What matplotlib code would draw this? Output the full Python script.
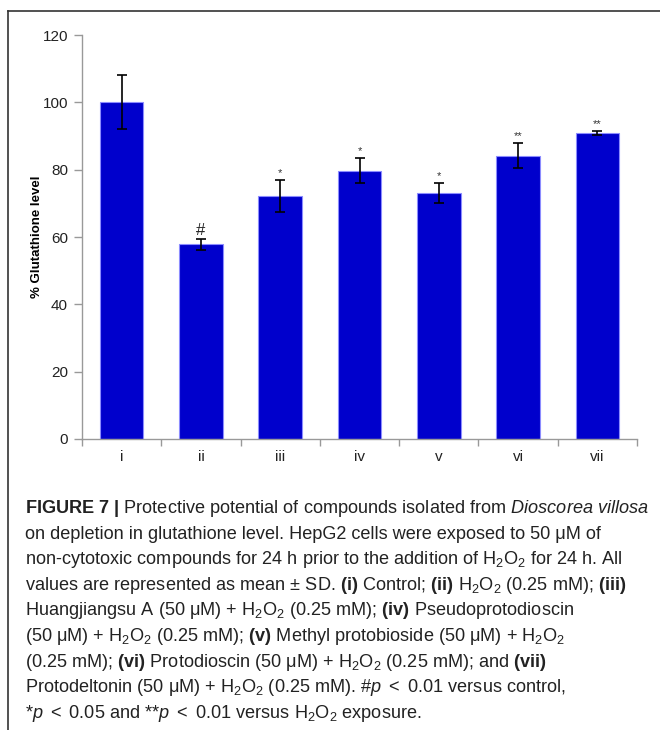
import numpy as np
import matplotlib
matplotlib.use("Agg")
import matplotlib.pyplot as plt
from matplotlib.lines import Line2D

# data
groups = ["i", "ii", "iii", "iv", "v", "vi", "vii"]
gsh = [100.0, 57.8, 72.1, 79.7, 73.0, 84.1, 90.9]
sd = [8.0, 1.6, 4.8, 3.8, 2.9, 3.7, 0.7]
marks = ["", "#", "*", "*", "*", "**", "**"]

caption = [
    r"$\mathbf{FIGURE\ 7\ |}$ Protective potential of compounds isolated from $\mathit{Dioscorea\ villosa}$",
    r"on depletion in glutathione level. HepG2 cells were exposed to 50 μM of",
    r"non-cytotoxic compounds for 24 h prior to the addition of H$_2$O$_2$ for 24 h. All",
    r"values are represented as mean ± SD. $\mathbf{(i)}$ Control; $\mathbf{(ii)}$ H$_2$O$_2$ (0.25 mM); $\mathbf{(iii)}$",
    r"Huangjiangsu A (50 μM) + H$_2$O$_2$ (0.25 mM); $\mathbf{(iv)}$ Pseudoprotodioscin",
    r"(50 μM) + H$_2$O$_2$ (0.25 mM); $\mathbf{(v)}$ Methyl protobioside (50 μM) + H$_2$O$_2$",
    r"(0.25 mM); $\mathbf{(vi)}$ Protodioscin (50 μM) + H$_2$O$_2$ (0.25 mM); and $\mathbf{(vii)}$",
    r"Protodeltonin (50 μM) + H$_2$O$_2$ (0.25 mM). #$\mathit{p}$ $<$ 0.01 versus control,",
    r"*$\mathit{p}$ $<$ 0.05 and **$\mathit{p}$ $<$ 0.01 versus H$_2$O$_2$ exposure.",
]

plt.rcParams["font.family"] = ["Liberation Sans", "DejaVu Sans"]
plt.rcParams["mathtext.fontset"] = "custom"
plt.rcParams["mathtext.rm"] = "Liberation Sans"
plt.rcParams["mathtext.it"] = "Liberation Sans:italic"
plt.rcParams["mathtext.bf"] = "Liberation Sans:bold"

fig = plt.figure(figsize=(6.6, 7.3), dpi=100)
ax = fig.add_axes([82 / 660, 1 - 439 / 730, 555 / 660, 404 / 730])

x = np.arange(len(groups))
ax.bar(x, gsh, width=0.55, color="#0000cc", edgecolor="#8c8cff", linewidth=0.8, zorder=2)
ax.errorbar(x, gsh, yerr=sd, fmt="none", ecolor="black", elinewidth=1.2,
            capsize=3.5, capthick=1.2, zorder=3)

for xi, v, s, m in zip(x, gsh, sd, marks):
    if m == "#":
        ax.text(xi, v + s + 0.3, m, ha="center", va="bottom", fontsize=12, color="#222222")
    elif m:
        ax.text(xi, v + s + 0.6, m, ha="center", va="bottom", fontsize=8, color="#333333")

ax.set_xlim(-0.5, len(groups) - 0.5)
ax.set_ylim(0, 120)
ax.set_yticks(np.arange(0, 121, 20))
ax.set_xticks(x)
ax.set_xticklabels(groups)
ax.set_xticks(np.arange(-0.5, len(groups), 1), minor=True)
ax.tick_params(axis="x", which="major", length=0, pad=8, labelsize=11, labelcolor="#222222")
ax.tick_params(axis="x", which="minor", length=5, color="#999999", width=1)
ax.tick_params(axis="y", length=6, color="#999999", width=1, labelsize=11, labelcolor="#222222", pad=4)

for sp in ["top", "right"]:
    ax.spines[sp].set_visible(False)
for sp in ["left", "bottom"]:
    ax.spines[sp].set_color("#999999")
    ax.spines[sp].set_linewidth(1)

ax.set_ylabel("% Glutathione level", fontsize=9.5, fontweight="bold", labelpad=0)

# outer frame (top and left only)
fig.add_artist(Line2D([8 / 660, 1.0], [1 - 11 / 730, 1 - 11 / 730], color="#333333", lw=1.2))
fig.add_artist(Line2D([8 / 660, 8 / 660], [1 - 11 / 730, 0.0], color="#333333", lw=1.2))

y0 = 513
for i, line in enumerate(caption):
    fig.text(25 / 660, 1 - (y0 + i * 25.6) / 730, line, fontsize=13.1, color="#222222",
             ha="left", va="baseline")

fig.savefig("out.png", dpi=100)
